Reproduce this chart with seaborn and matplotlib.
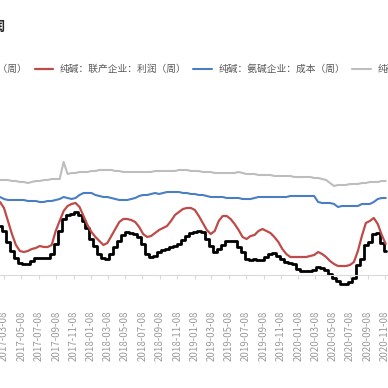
import pandas as pd
import numpy as np
import matplotlib
matplotlib.use("Agg")
import matplotlib.pyplot as plt
import seaborn as sns

# weekly series read every two weeks, values in yuan/ton
start_date = "2017-02-22"

ammonia_profit = [980, 880, 660, 480, 340, 240, 220, 220, 280, 340,
                  340, 340, 340, 420, 620, 880, 1120, 1200, 1220, 1260,
                  1200, 1080, 940, 720, 580, 420, 340, 320, 420, 560,
                  680, 800, 860, 840, 820, 760, 620, 420, 360, 380,
                  460, 500, 520, 560, 580, 620, 700, 780, 840, 860,
                  880, 860, 720, 580, 460, 520, 600, 680, 680, 680,
                  560, 460, 320, 300, 320, 300, 300, 360, 420, 440,
                  380, 320, 260, 240, 220, 120, 80, 80, 80, 100,
                  160, 140, 100, 20, -60, -120, -180, -180, -140, -60,
                  200, 320, 600, 660, 820, 840, 640, 480]

joint_profit = [1460, 1340, 1080, 820, 600, 480, 460, 480, 520, 540,
                580, 560, 560, 600, 880, 1080, 1280, 1380, 1420, 1440,
                1360, 1180, 1000, 860, 760, 680, 600, 640, 780, 920,
                1060, 1120, 1120, 1100, 1060, 960, 820, 760, 780, 840,
                900, 940, 980, 1080, 1200, 1260, 1320, 1340, 1340, 1300,
                1180, 1040, 900, 820, 880, 1080, 1180, 1180, 1120, 1020,
                900, 760, 720, 780, 800, 880, 920, 880, 840, 760,
                660, 520, 420, 360, 360, 360, 360, 360, 380, 400,
                460, 420, 360, 280, 220, 180, 180, 180, 200, 260,
                480, 780, 1040, 1080, 1140, 1020, 800, 620]

ammonia_cost = [1560, 1520, 1500, 1500, 1500, 1500, 1500, 1480, 1480, 1480,
                1460, 1460, 1480, 1480, 1500, 1520, 1560, 1540, 1520, 1540,
                1600, 1640, 1640, 1640, 1600, 1580, 1560, 1560, 1540, 1520,
                1500, 1500, 1500, 1520, 1540, 1580, 1600, 1600, 1620, 1640,
                1620, 1640, 1660, 1660, 1660, 1660, 1640, 1640, 1620, 1620,
                1600, 1600, 1580, 1560, 1560, 1560, 1560, 1540, 1540, 1540,
                1540, 1520, 1520, 1520, 1540, 1560, 1560, 1560, 1560, 1560,
                1560, 1560, 1560, 1580, 1580, 1580, 1580, 1580, 1580, 1580,
                1460, 1440, 1440, 1440, 1420, 1360, 1380, 1380, 1380, 1380,
                1380, 1420, 1420, 1420, 1460, 1520, 1540, 1540]

joint_cost = [1900, 1900, 1900, 1880, 1880, 1860, 1860, 1840, 1860, 1880,
              1880, 1900, 1900, 1920, 1920, 1920, 2260, 2020, 2040, 2040,
              2060, 2060, 2060, 2080, 2080, 2100, 2100, 2100, 2100, 2080,
              2080, 2060, 2060, 2060, 2060, 2060, 2060, 2060, 2060, 2080,
              2080, 2080, 2080, 2080, 2080, 2100, 2100, 2100, 2080, 2080,
              2080, 2060, 2060, 2060, 2040, 2040, 2040, 2040, 2040, 2040,
              2060, 2040, 2020, 2020, 2020, 2000, 2000, 2000, 2000, 1980,
              1980, 1980, 1980, 1980, 1960, 1960, 1960, 1960, 1960, 1940,
              1940, 1920, 1900, 1840, 1780, 1800, 1800, 1800, 1820, 1820,
              1820, 1840, 1840, 1860, 1860, 1860, 1880, 1880]

series_names = ["纯碱：氨碱企业：利润（周）", "纯碱：联产企业：利润（周）",
                "纯碱：氨碱企业：成本（周）", "纯碱：联产企业：成本（周）"]
series_colors = ["#000000", "#BE4B48", "#4A7EC4", "#BDBDBD"]
series_widths = [2.0, 1.6, 1.5, 1.5]
series_steps = ["steps-mid", "default", "default", "default"]

tick_dates = pd.date_range("2017-03-01", "2020-11-01", freq="2MS") + pd.Timedelta(days=7)

dates = pd.date_range(start_date, periods=len(ammonia_profit), freq="14D")
df = pd.DataFrame({
    "date": dates,
    series_names[0]: ammonia_profit,
    series_names[1]: joint_profit,
    series_names[2]: ammonia_cost,
    series_names[3]: joint_cost,
})

sns.set_style("white")
plt.rcParams['font.family'] = ['Noto Sans CJK SC', 'DejaVu Sans']

fig = plt.figure(figsize=(3.88, 3.88), dpi=100)
ax = fig.add_axes([0, 88 / 388, 1, 200 / 388])

for name, color, lw, ds in zip(series_names, series_colors, series_widths, series_steps):
    sns.lineplot(data=df, x="date", y=name, color=color, linewidth=lw,
                 drawstyle=ds, label=name, ax=ax)

ax.set_xlim(pd.Timestamp("2017-02-22"), pd.Timestamp("2020-11-19"))
ax.set_ylim(-500, 3500)
ax.set_xlabel("")
ax.set_ylabel("")
ax.set_yticks([])
ax.set_xticks(tick_dates)
ax.set_xticklabels([d.strftime("%Y-%m-%d") for d in tick_dates])
ax.tick_params(axis="x", bottom=True, length=3, width=0.8, color="#D9D9D9",
               pad=22.5, labelsize=7, labelcolor="#9A9A9A", labelrotation=90)
for s in ["top", "left", "right"]:
    ax.spines[s].set_visible(False)
ax.spines["bottom"].set_position(("data", 0))
ax.spines["bottom"].set_color("#D9D9D9")
ax.spines["bottom"].set_linewidth(0.8)

ax.legend(loc="center", bbox_to_anchor=(190 / 388, 1 - 69 / 388),
          bbox_transform=fig.transFigure, ncol=4, frameon=False, fontsize=7,
          handlelength=1.9, handletextpad=0.7, columnspacing=0.7,
          labelcolor="#595959")

fig.text(6 / 388, 1 - 27 / 388, "纯碱：成本与利润", ha="right", va="center",
         fontsize=10, fontweight="bold")

fig.savefig("out.png", dpi=100, facecolor="white")
